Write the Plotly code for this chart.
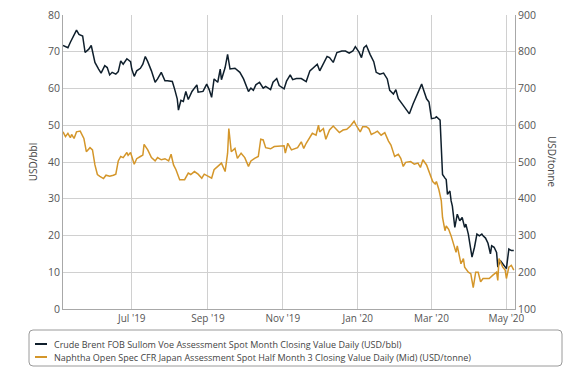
import plotly.graph_objects as go

brent_dates = [
    "2019-05-06", "2019-05-10", "2019-05-12", "2019-05-14", "2019-05-17", "2019-05-19", "2019-05-22", "2019-05-24",
    "2019-05-27", "2019-05-29", "2019-06-01", "2019-06-04", "2019-06-06", "2019-06-09", "2019-06-11", "2019-06-13",
    "2019-06-15", "2019-06-18", "2019-06-20", "2019-06-22", "2019-06-24", "2019-06-27", "2019-06-30", "2019-07-01",
    "2019-07-03", "2019-07-05", "2019-07-08", "2019-07-10", "2019-07-12", "2019-07-14", "2019-07-17", "2019-07-20",
    "2019-07-22", "2019-07-25", "2019-07-28", "2019-07-30", "2019-08-03", "2019-08-05", "2019-08-07", "2019-08-08",
    "2019-08-10", "2019-08-12", "2019-08-14", "2019-08-16", "2019-08-19", "2019-08-23", "2019-08-24", "2019-08-28",
    "2019-08-31", "2019-09-02", "2019-09-04", "2019-09-06", "2019-09-09", "2019-09-11", "2019-09-12", "2019-09-15",
    "2019-09-17", "2019-09-19", "2019-09-23", "2019-09-27", "2019-09-30", "2019-10-04", "2019-10-06", "2019-10-08",
    "2019-10-10", "2019-10-13", "2019-10-16", "2019-10-18", "2019-10-22", "2019-10-24", "2019-10-27", "2019-10-29",
    "2019-11-02", "2019-11-04", "2019-11-07", "2019-11-09", "2019-11-12", "2019-11-16", "2019-11-20", "2019-11-23",
    "2019-11-26", "2019-11-29", "2019-12-01", "2019-12-04", "2019-12-07", "2019-12-09", "2019-12-12", "2019-12-15",
    "2019-12-19", "2019-12-22", "2019-12-25", "2019-12-28", "2019-12-30", "2020-01-02", "2020-01-04", "2020-01-06",
    "2020-01-08", "2020-01-11", "2020-01-14", "2020-01-16", "2020-01-19", "2020-01-22", "2020-01-25", "2020-01-27",
    "2020-01-30", "2020-02-01", "2020-02-03", "2020-02-07", "2020-02-09", "2020-02-12", "2020-02-15", "2020-02-18",
    "2020-02-20", "2020-02-22", "2020-02-24", "2020-02-26", "2020-02-28", "2020-03-01", "2020-03-04", "2020-03-05",
    "2020-03-08", "2020-03-09", "2020-03-10", "2020-03-12", "2020-03-13", "2020-03-14", "2020-03-16", "2020-03-17",
    "2020-03-18", "2020-03-20", "2020-03-22", "2020-03-24", "2020-03-26", "2020-03-28", "2020-03-29", "2020-03-31",
    "2020-04-02", "2020-04-03", "2020-04-05", "2020-04-07", "2020-04-09", "2020-04-11", "2020-04-12", "2020-04-14",
    "2020-04-16", "2020-04-18", "2020-04-19", "2020-04-21", "2020-04-23", "2020-04-24", "2020-04-26", "2020-04-29",
    "2020-05-01", "2020-05-03", "2020-05-05", "2020-05-07",
]
brent_usd_bbl = [
    71.7, 71.1, 72.6, 73.8, 75.9, 74.7, 74.3, 69.8,
    70.7, 71.7, 67.1, 65.3, 64.2, 66.2, 65.7, 63.7,
    64.4, 63.9, 64.6, 67.5, 66.6, 68.1, 67.3, 65.3,
    63.3, 64.8, 65.5, 66.6, 68.7, 67.3, 64.8, 61.7,
    62.6, 64.4, 62.1, 62.1, 61.9, 59.7, 57.2, 54.1,
    56.8, 56.5, 59.2, 57.0, 59.2, 61.0, 59.0, 59.2,
    61.2, 59.7, 57.6, 62.6, 61.7, 65.3, 62.4, 65.7,
    69.3, 65.3, 65.5, 64.4, 62.6, 59.2, 60.1, 59.5,
    61.0, 61.7, 60.1, 60.6, 59.7, 61.7, 62.7, 60.8,
    59.9, 62.0, 63.7, 62.4, 62.7, 62.7, 61.9, 64.8,
    65.7, 66.6, 64.8, 66.6, 68.7, 68.4, 67.1, 69.8,
    70.2, 70.2, 69.6, 70.2, 71.4, 69.9, 68.4, 71.1,
    71.7, 69.3, 67.3, 64.4, 63.9, 64.2, 62.6, 59.5,
    58.5, 59.7, 57.2, 55.4, 54.5, 53.1, 55.8, 58.1,
    59.2, 61.2, 59.2, 57.2, 56.3, 51.8, 52.0, 52.3,
    51.4, 44.6, 36.6, 35.6, 35.2, 31.2, 32.1, 29.4,
    28.0, 22.2, 25.8, 24.0, 24.9, 22.2, 23.1, 20.4,
    16.3, 14.1, 16.8, 20.4, 19.9, 20.4, 19.9, 19.3,
    17.9, 15.0, 17.2, 16.8, 15.4, 11.4, 13.2, 11.9,
    11.0, 16.3, 15.9, 15.9,
]

naphtha_dates = [
    "2019-05-06", "2019-05-08", "2019-05-10", "2019-05-12", "2019-05-13", "2019-05-15", "2019-05-17", "2019-05-20",
    "2019-05-23", "2019-05-25", "2019-05-28", "2019-05-30", "2019-06-01", "2019-06-03", "2019-06-05", "2019-06-08",
    "2019-06-10", "2019-06-13", "2019-06-16", "2019-06-18", "2019-06-20", "2019-06-22", "2019-06-24", "2019-06-27",
    "2019-06-28", "2019-06-30", "2019-07-03", "2019-07-05", "2019-07-08", "2019-07-10", "2019-07-11", "2019-07-14",
    "2019-07-17", "2019-07-20", "2019-07-22", "2019-07-25", "2019-07-28", "2019-07-31", "2019-08-02", "2019-08-04",
    "2019-08-06", "2019-08-09", "2019-08-13", "2019-08-16", "2019-08-18", "2019-08-21", "2019-08-24", "2019-08-27",
    "2019-08-29", "2019-09-01", "2019-09-04", "2019-09-06", "2019-09-09", "2019-09-12", "2019-09-15", "2019-09-17",
    "2019-09-18", "2019-09-20", "2019-09-23", "2019-09-25", "2019-09-28", "2019-10-01", "2019-10-04", "2019-10-06",
    "2019-10-09", "2019-10-12", "2019-10-14", "2019-10-16", "2019-10-18", "2019-10-22", "2019-10-25", "2019-10-29",
    "2019-11-02", "2019-11-03", "2019-11-05", "2019-11-08", "2019-11-11", "2019-11-13", "2019-11-16", "2019-11-18",
    "2019-11-20", "2019-11-23", "2019-11-25", "2019-11-28", "2019-11-30", "2019-12-01", "2019-12-04", "2019-12-06",
    "2019-12-09", "2019-12-12", "2019-12-14", "2019-12-17", "2019-12-20", "2019-12-23", "2019-12-26", "2019-12-29",
    "2019-12-31", "2020-01-03", "2020-01-05", "2020-01-08", "2020-01-10", "2020-01-12", "2020-01-15", "2020-01-17",
    "2020-01-20", "2020-01-23", "2020-01-26", "2020-01-28", "2020-01-31", "2020-02-03", "2020-02-05", "2020-02-07",
    "2020-02-09", "2020-02-12", "2020-02-13", "2020-02-16", "2020-02-19", "2020-02-21", "2020-02-23", "2020-02-26",
    "2020-02-28", "2020-03-02", "2020-03-04", "2020-03-05", "2020-03-07", "2020-03-09", "2020-03-10", "2020-03-12",
    "2020-03-13", "2020-03-15", "2020-03-17", "2020-03-18", "2020-03-20", "2020-03-21", "2020-03-22", "2020-03-24",
    "2020-03-25", "2020-03-27", "2020-03-28", "2020-03-31", "2020-04-02", "2020-04-04", "2020-04-06", "2020-04-08",
    "2020-04-10", "2020-04-12", "2020-04-15", "2020-04-17", "2020-04-20", "2020-04-23", "2020-04-24", "2020-04-25",
    "2020-04-28", "2020-04-30", "2020-05-01", "2020-05-03", "2020-05-05", "2020-05-07",
]
naphtha_usd_tonne = [
    582, 569, 578, 566, 575, 564, 582, 584,
    564, 528, 539, 533, 492, 466, 461, 455,
    464, 461, 464, 467, 503, 515, 512, 526,
    518, 526, 494, 509, 515, 519, 548, 533,
    512, 503, 512, 506, 509, 503, 521, 492,
    479, 452, 452, 470, 466, 474, 467, 456,
    467, 461, 456, 479, 488, 497, 474, 524,
    591, 528, 537, 510, 524, 512, 488, 503,
    510, 515, 562, 560, 539, 536, 542, 542,
    544, 524, 551, 533, 537, 539, 555, 537,
    551, 569, 578, 573, 600, 582, 591, 562,
    587, 598, 591, 580, 587, 589, 598, 611,
    598, 582, 596, 596, 591, 575, 580, 584,
    573, 580, 557, 546, 515, 521, 510, 488,
    499, 499, 501, 494, 497, 485, 506, 492,
    474, 447, 440, 447, 425, 394, 349, 313,
    326, 317, 299, 286, 263, 254, 272, 241,
    223, 237, 214, 200, 196, 158, 200, 200,
    174, 183, 183, 183, 192, 200, 178, 237,
    214, 206, 183, 214, 219, 206,
]

x_tick_dates = ["2019-07-01", "2019-09-01", "2019-11-01", "2020-01-01", "2020-03-01", "2020-05-01"]
x_tick_labels = ["Jul '19", "Sep '19", "Nov '19", "Jan '20", "Mar '20", "May '20"]

brent_name = "Crude Brent FOB Sullom Voe Assessment Spot Month Closing Value Daily (USD/bbl)"
naphtha_name = "Naphtha Open Spec CFR Japan Assessment Spot Half Month 3 Closing Value Daily (Mid) (USD/tonne)"
series_names = [brent_name, naphtha_name]
series_colors = ["#0f1f2c", "#d4962a"]

FONT = "Open Sans, DejaVu Sans, sans-serif"
GRID = "#d0d0d0"
TICKC = "#555555"

# page body has an 8px margin: the figure is drawn 8px right/down in the window
OFF = 8
W, H = 576 - OFF, 376 - OFF
# plot area in window pixels
PL, PR, PT, PB = 63, 515, 15, 309
def px(xp):
    return (xp - PL) / (PR - PL)
def py(yp):
    return (PB - yp) / (PB - PT)

fig = go.Figure()
fig.add_trace(go.Scatter(x=brent_dates, y=brent_usd_bbl, name=brent_name, mode="lines",
                         line=dict(color=series_colors[0], width=1.5), yaxis="y"))
fig.add_trace(go.Scatter(x=naphtha_dates, y=naphtha_usd_tonne, name=naphtha_name, mode="lines",
                         line=dict(color=series_colors[1], width=1.5), yaxis="y2"))

# legend (drawn manually to match the reference box)
bx0, bx1, by0, by1, r = 29, 562, 330, 366, 4
rx, ry = r / (PR - PL), r / (PB - PT)
X0, X1, Y0, Y1 = px(bx0), px(bx1), py(by0), py(by1)
box_path = (f"M {X0+rx},{Y0} L {X1-rx},{Y0} Q {X1},{Y0} {X1},{Y0-ry} "
            f"L {X1},{Y1+ry} Q {X1},{Y1} {X1-rx},{Y1} L {X0+rx},{Y1} "
            f"Q {X0},{Y1} {X0},{Y1+ry} L {X0},{Y0-ry} Q {X0},{Y0} {X0+rx},{Y0} Z")
shapes = [dict(type="path", path=box_path, xref="paper", yref="paper",
               line=dict(color="#9a9a9a", width=1), fillcolor="rgba(0,0,0,0)")]
annotations = []
for i, (nm, col) in enumerate(zip(series_names, series_colors)):
    ly = 344 + 13 * i
    shapes.append(dict(type="line", xref="paper", yref="paper", x0=px(35), x1=px(47),
                       y0=py(ly), y1=py(ly), line=dict(color=col, width=2)))
    annotations.append(dict(text=nm, xref="paper", yref="paper", x=px(52), y=py(ly),
                            xanchor="left", yanchor="middle", showarrow=False,
                            font=dict(family=FONT, size=9, color="#444444")))

annotations.append(dict(text="USD/tonne", xref="paper", yref="paper", x=px(552), y=0.5,
                        textangle=90, showarrow=False, font=dict(size=10, color="#444444"),
                        xanchor="center", yanchor="middle"))

fig.update_layout(
    width=W, height=H,
    margin=dict(l=PL - OFF, r=W - (PR - OFF), t=PT - OFF, b=H - (PB - OFF), autoexpand=False),
    paper_bgcolor="white", plot_bgcolor="white",
    font=dict(family=FONT, size=10, color=TICKC),
    showlegend=False,
    xaxis=dict(type="date", range=["2019-05-06", "2020-05-08"],
               tickvals=x_tick_dates, ticktext=x_tick_labels,
               showgrid=True, gridcolor=GRID, gridwidth=1,
               showline=True, linecolor="#a8a8a8", linewidth=1,
               ticks="", tickfont=dict(size=10, color=TICKC), zeroline=False,
               ticklabeloverflow="allow"),
    yaxis=dict(range=[0, 80], dtick=10, showgrid=True, gridcolor=GRID, gridwidth=1,
               showline=True, linecolor="#a8a8a8", linewidth=1, ticks="",
               tickfont=dict(size=10.5, color=TICKC), zeroline=False,
               ticklabeloverflow="allow",
               title=dict(text="USD/bbl", font=dict(size=10, color="#444444"), standoff=8)),
    yaxis2=dict(range=[100, 900], dtick=100, overlaying="y", side="right",
                showgrid=False, showline=True, linecolor="#a8a8a8", linewidth=1, ticks="",
                tickfont=dict(size=10.5, color=TICKC), zeroline=False,
                ticklabeloverflow="allow"),
    annotations=annotations,
    shapes=shapes,
)

fig.write_html("out.html")
